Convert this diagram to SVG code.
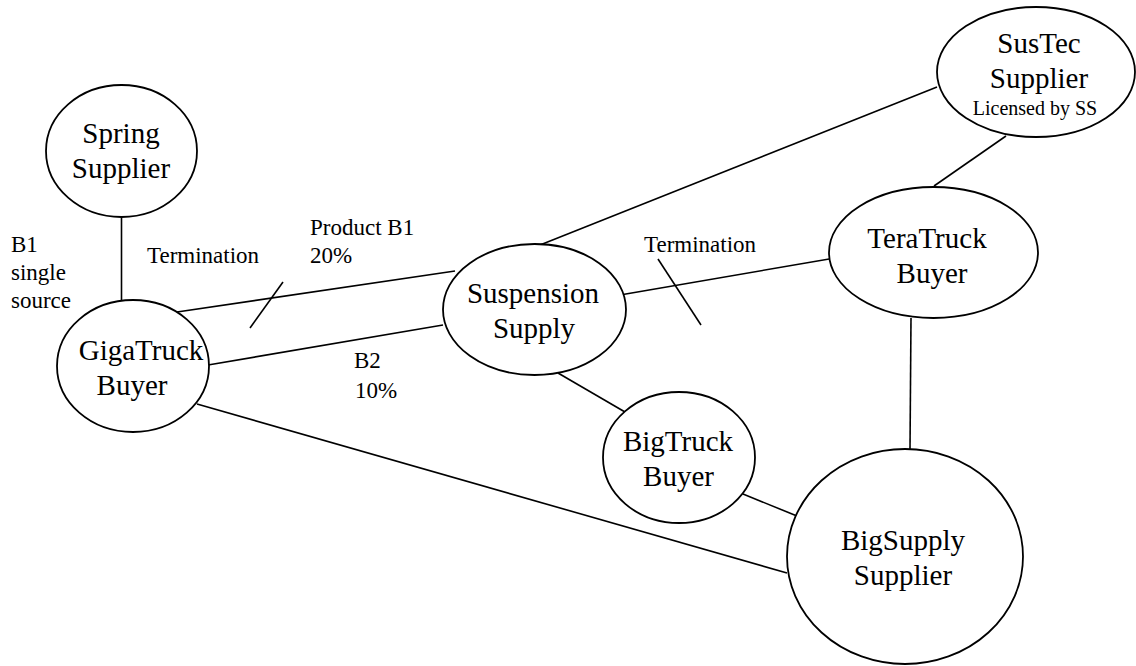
<svg xmlns="http://www.w3.org/2000/svg" width="1136" height="666" viewBox="0 0 1136 666">
<style>
.n{fill:#fff;stroke:#000;stroke-width:1.8}
.c line{stroke:#000;stroke-width:1.6}
.t{font-family:"Liberation Serif","Times New Roman",serif;font-size:29px;fill:#000;text-anchor:middle}
.s{font-family:"Liberation Serif","Times New Roman",serif;font-size:23px;fill:#000}
.l{font-family:"Liberation Serif","Times New Roman",serif;font-size:20px;fill:#000;text-anchor:middle}
</style>
<rect width="1136" height="666" fill="#fff"/>
<g class="c" id="connectors">
<line x1="121.5" y1="217" x2="121.5" y2="300"/>
<line x1="177" y1="312" x2="455" y2="271"/>
<line x1="283" y1="282" x2="250" y2="328"/>
<line x1="208" y1="365" x2="443" y2="325"/>
<line x1="197" y1="404" x2="787" y2="573"/>
<line x1="540" y1="245" x2="937" y2="87"/>
<line x1="620" y1="295" x2="835" y2="258"/>
<line x1="658" y1="259" x2="701" y2="325"/>
<line x1="558" y1="373" x2="625" y2="412"/>
<line x1="1006" y1="136" x2="934" y2="186"/>
<line x1="911" y1="318" x2="910" y2="449"/>
<line x1="743" y1="494" x2="797" y2="516"/>
</g>
<g id="spring">
<ellipse class="n" cx="121.5" cy="151" rx="75.5" ry="66"/>
<text class="t" x="121" y="143">Spring</text>
<text class="t" x="121" y="178">Supplier</text>
</g>
<g id="giga">
<ellipse class="n" cx="133" cy="366" rx="76" ry="66"/>
<text class="t" x="141" y="360">GigaTruck</text>
<text class="t" x="132" y="395">Buyer</text>
</g>
<g id="suspension">
<ellipse class="n" cx="534.5" cy="309.5" rx="91.5" ry="65.5"/>
<text class="t" x="533" y="303">Suspension</text>
<text class="t" x="534" y="338">Supply</text>
</g>
<g id="sustec">
<ellipse class="n" cx="1036" cy="72" rx="99" ry="65"/>
<text class="t" x="1039" y="53">SusTec</text>
<text class="t" x="1039" y="88">Supplier</text>
<text class="l" x="1035" y="115">Licensed by SS</text>
</g>
<g id="teratruck">
<ellipse class="n" cx="933.5" cy="252.5" rx="104.5" ry="65.5"/>
<text class="t" x="927" y="248">TeraTruck</text>
<text class="t" x="932" y="283">Buyer</text>
</g>
<g id="bigtruck">
<ellipse class="n" cx="679" cy="457.5" rx="76" ry="65.5"/>
<text class="t" x="678" y="451">BigTruck</text>
<text class="t" x="678.5" y="486">Buyer</text>
</g>
<g id="bigsupply">
<ellipse class="n" cx="905" cy="556.5" rx="118" ry="107.5"/>
<text class="t" x="903" y="550">BigSupply</text>
<text class="t" x="903" y="585">Supplier</text>
</g>
<g id="labels">
<text class="s" x="11" y="252">B1</text>
<text class="s" x="11" y="280">single</text>
<text class="s" x="11" y="308">source</text>
<text class="s" x="147" y="263">Termination</text>
<text class="s" x="310" y="235">Product B1</text>
<text class="s" x="310" y="263">20%</text>
<text class="s" x="354" y="368">B2</text>
<text class="s" x="355" y="398">10%</text>
<text class="s" x="644" y="252">Termination</text>
</g>
</svg>
